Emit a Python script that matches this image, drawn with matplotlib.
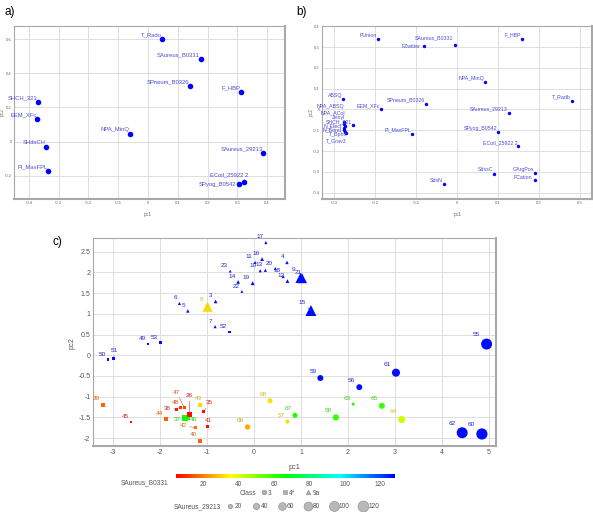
import matplotlib
matplotlib.use("Agg")
import numpy as np
import matplotlib.pyplot as plt
from matplotlib.colors import LinearSegmentedColormap, Normalize
from matplotlib.lines import Line2D
from matplotlib.ticker import MultipleLocator, FuncFormatter

plt.rcParams["font.family"] = ["Liberation Sans", "DejaVu Sans"]

#### DATA ####
# a) loadings
a_names = ["T_Rado", "SAureus_B0331", "SPneum_B0326", "F_HBP", "SHCH_321", "EEM_XFc",
           "NPA_MinQ", "SHdsCH", "SAureus_29213", "Pl_MaxFPL", "ECoil_25922 2", "SPyog_B0542"]
a_pc1 = [0.047, 0.177, 0.141, 0.312, -0.370, -0.372, -0.060, -0.342, 0.387, -0.335, 0.322, 0.305]
a_pc2 = [0.598, 0.484, 0.324, 0.292, 0.229, 0.135, 0.047, -0.029, -0.065, -0.171, -0.237, -0.247]

# b) loadings
b_names = ["PUnion", "SAureus_B0331", "FZwitter", "F_HBP", "NPA_MinQ", "ABSQ", "T_Radb",
           "SPneum_B0326", "EEM_XFc", "SAureus_29213", "NPA_ABSQ", "NPA_ACol", "Jvinyl",
           "SHCH_321", "N_Elect", "N_Bond", "T_Bphil", "T_Grav3", "Pl_MaxFPL", "SPyog_B0542",
           "ECoil_25922 2", "SdssC", "GArgPos", "FCation", "SdsN"]
b_pc1 = [-0.193, -0.005, -0.082, 0.157, 0.068, -0.278, 0.279, -0.076, -0.187, 0.126,
         -0.277, -0.276, -0.275, -0.254, -0.277, -0.276, -0.273, -0.271, -0.111, 0.100,
         0.149, 0.090, 0.190, 0.190, -0.033]
b_pc2 = [0.338, 0.311, 0.303, 0.340, 0.133, 0.051, 0.043, 0.026, 0.000, -0.016,
         -0.062, -0.068, -0.080, -0.074, -0.090, -0.098, -0.106, -0.112, -0.117, -0.109,
         -0.176, -0.308, -0.306, -0.338, -0.359]

# c) scores
c_ids = [3, 4, 5, 6, 7, 8, 9, 10, 11, 12, 13, 14, 15, 16, 17, 18, 19, 20, 21, 22, 23,
         35, 36, 37, 38, 39, 40, 41, 42, 43, 44, 45, 46, 47, 48, 49, 50, 51, 52, 53,
         55, 56, 57, 58, 59, 60, 61, 62, 63, 64, 65, 66, 67, 68]
c_pc1 = [-0.82, 0.70, -1.41, -1.59, -0.83, -0.99, 0.99, 0.13, 0.02, 0.71, 0.24, -0.34, 1.21,
         0.17, 0.25, 0.62, -0.03, 0.45, 1.02, -0.26, -0.51,
         -1.07, -1.38, -1.47, -1.65, -3.22, -1.16, -0.99, -1.25, -1.15, -1.88, -2.62, -1.42,
         -1.49, -1.57, -2.26, -3.11, -2.99, -0.52, -1.99,
         4.95, 2.24, 0.71, 1.74, 1.41, 4.85, 3.02, 4.43, 2.11, 3.14, 2.72, -0.14, 0.87, 0.34]
c_pc2 = [1.30, 2.24, 1.07, 1.25, 0.69, 1.17, 1.87, 2.04, 2.24, 1.79, 2.05, 1.77, 1.08,
         2.32, 2.72, 1.90, 1.74, 2.09, 1.86, 1.54, 2.03,
         -1.35, -1.43, -1.52, -1.30, -1.20, -2.06, -1.71, -1.75, -1.20, -1.54, -1.61, -1.50,
         -1.26, -1.27, 0.27, -0.11, -0.08, 0.56, 0.30,
         0.27, -0.77, -1.60, -1.50, -0.55, -1.90, -0.42, -1.87, -1.18, -1.55, -1.22, -1.73,
         -1.45, -1.10]
c_b0331 = [127, 127, 127, 127, 127, 31, 127, 127, 127, 127, 127, 127, 127, 127, 127, 127,
           127, 127, 127, 127, 127,
           6, 6, 66, 7, 17, 17, 6, 18, 31, 17, 6, 64, 14, 12, 127, 127, 127, 127, 127,
           127, 127, 31, 60, 127, 127, 127, 127, 62, 42, 60, 25, 63, 32]
c_29213 = [14, 12, 12, 10, 10, 100, 105, 10, 10, 14, 10, 14, 120, 14, 10, 10, 16, 10, 100,
           8, 8,
           8, 20, 40, 10, 18, 16, 8, 8, 14, 16, 8, 30, 10, 10, 8, 8, 8, 8, 8,
           120, 35, 16, 38, 36, 125, 65, 120, 10, 50, 36, 28, 25, 25]
c_class = ["9a"] * 21 + ["4*"] * 19 + ["3"] * 14

class_names = ["3", "4*", "9a"]
size_ticks = [20, 40, 60, 80, 100, 120]
cbar_ticks = [20, 40, 60, 80, 100, 120]

W, H = 593, 512
def box(l, t, r, b):
    return [l / W, 1 - b / H, (r - l) / W, (b - t) / H]

def fmt(v, pos):
    return "%g" % round(v, 3)

def style_axes(ax, tsize, xstep, ystep, pad):
    ax.xaxis.set_major_locator(MultipleLocator(xstep))
    ax.yaxis.set_major_locator(MultipleLocator(ystep))
    ax.xaxis.set_major_formatter(FuncFormatter(fmt))
    ax.yaxis.set_major_formatter(FuncFormatter(fmt))
    ax.grid(True, color="#dedede", lw=0.7)
    ax.set_axisbelow(True)
    ax.tick_params(length=0, labelsize=tsize, colors="#666666", pad=pad)
    for s in ax.spines.values():
        s.set_color("#a8a8a8")
        s.set_linewidth(0.8)
    ax.spines["right"].set_linewidth(1.5)
    ax.spines["bottom"].set_linewidth(1.5)

fig = plt.figure(figsize=(W / 100, H / 100), dpi=100)

################ a) ################
ax_a = fig.add_axes(box(14, 26, 285, 199))
ax_a.scatter(a_pc1, a_pc2, s=16, color="#0000ff", linewidths=0, zorder=3)
a_moves = {"ECoil_25922 2": (3, 5), "SPyog_B0542": (-2, -0.3)}
for n, x, y in zip(a_names, a_pc1, a_pc2):
    dx, dy = a_moves.get(n, (-0.5, 3))
    ax_a.annotate(n, (x, y), xytext=(dx, dy), textcoords="offset points", ha="right",
                  va="center", fontsize=4.2, color="#4b4bdc")
ax_a.set_xlim(-0.45, 0.46)
ax_a.set_ylim(-0.335, 0.676)
style_axes(ax_a, 3, 0.1, 0.2, 1.5)
ax_a.set_xlabel("pc1", fontsize=3.5, color="#666666")
ax_a.set_ylabel("pc2", fontsize=3.5, color="#666666")
ax_a.xaxis.set_label_coords(0.494, -0.073)
ax_a.yaxis.set_label_coords(-0.036, 0.505)
fig.text(10 / W, 1 - 12 / H, "a)", fontsize=8.5, ha="center", va="center")

################ b) ################
ax_b = fig.add_axes(box(322, 26, 592, 199))
ax_b.scatter(b_pc1, b_pc2, s=6, color="#0000ff", linewidths=0, zorder=3)
b_moves = {"SAureus_B0331": (-1, 5), "FZwitter": (-2, 0), "FCation": (-2, 1.5),
           "NPA_ABSQ": (0.4, 11.2), "NPA_ACol": (0.6, 8), "Jvinyl": (0.4, 6.2),
           "SHCH_321": (-0.7, 2.4), "N_Elect": (-1.4, 1.7), "N_Bond": (-1.7, 0),
           "T_Bphil": (0.9, -2.2), "T_Grav3": (0, -5.5)}
for n, x, y in zip(b_names, b_pc1, b_pc2):
    dx, dy = b_moves.get(n, (-0.5, 2.7))
    ax_b.annotate(n, (x, y), xytext=(dx, dy), textcoords="offset points", ha="right",
                  va="center", fontsize=3.8, color="#4b4bdc")
ax_b.set_xlim(-0.33, 0.329)
ax_b.set_ylim(-0.43, 0.401)
style_axes(ax_b, 3, 0.1, 0.1, 1.5)
ax_b.set_xlabel("pc1", fontsize=3.5, color="#666666")
ax_b.set_ylabel("pc2", fontsize=3.5, color="#666666")
ax_b.xaxis.set_label_coords(0.501, -0.073)
ax_b.yaxis.set_label_coords(-0.03, 0.5)
fig.text(302 / W, 1 - 12 / H, "b)", fontsize=8.5, ha="center", va="center")

################ c) ################
cmap = LinearSegmentedColormap.from_list(
    "hue", ["#ff0000", "#ffff00", "#00ff00", "#00ffff", "#0000ff"])
norm = Normalize(4.4, 128.6)
K = 0.52  # points^2 per SAureus_29213 unit
markers = {"3": "o", "4*": "s", "9a": "^"}

ax_c = fig.add_axes(box(93, 238, 496, 446))
px = np.array(c_pc1)
py = np.array(c_pc2)
pcol = np.array(c_b0331, dtype=float)
psz = np.array(c_29213, dtype=float)
cls = np.array(c_class)
order = np.argsort(-psz)
for cl in class_names:
    idx = [i for i in order if cls[i] == cl]
    ax_c.scatter(px[idx], py[idx], s=K * psz[idx], c=pcol[idx], cmap=cmap, norm=norm,
                 marker=markers[cl], linewidths=0, zorder=3)

# label placements (px) for the crowded ones: dx, dy, leader line
c_moves = {47: (-7.3, 15, True), 36: (0.3, 18.7, True), 48: (-4.6, 5.3, False),
           38: (-9, 0.3, True), 35: (5.6, 8.3, True), 37: (-8, -1.7, False),
           46: (6, -1.7, False), 42: (-12, 2.7, True), 41: (0.6, 5.7, False),
           40: (-6, 5.7, False), 43: (-1.3, 6.4, False), 51: (1, 7.7, True),
           8: (-6.3, 7, True), 9: (-7.4, 8.4, False), 21: (-4, 5.7, False),
           15: (-8.7, 8, True), 10: (-7.5, 5.5, False)}
for i, lab in enumerate(c_ids):
    r = np.sqrt(K * psz[i]) / 2
    rgb = np.array(cmap(norm(pcol[i]))[:3])
    tcol = rgb * 0.7 + 0.3 * 0.42
    if lab in c_moves:
        dx, dy, lead = c_moves[lab]
        dx, dy, ha, rel = dx * 0.72, dy * 0.72, "center", (0.5, 0.5)
    else:
        dx, dy, lead = -(r + 0.7), r + 2.9, r > 2.8
        ha, rel = "right", (1, 0)
    arrow = None
    if lead:
        arrow = dict(arrowstyle="-", color=tcol, lw=0.4, shrinkA=0, shrinkB=r, relpos=rel)
    ax_c.annotate(str(lab), (px[i], py[i]), xytext=(dx, dy), textcoords="offset points",
                  ha=ha, va="center", fontsize=4.6, color=tcol, arrowprops=arrow, zorder=4)

ax_c.set_xlim(-3.43, 5.15)
ax_c.set_ylim(-2.19, 2.83)
style_axes(ax_c, 5, 1, 0.5, 1.8)
ax_c.tick_params(colors="#555555")
ax_c.set_xlabel("pc1", fontsize=5.3, color="#555555")
ax_c.set_ylabel("pc2", fontsize=5.3, color="#555555")
ax_c.xaxis.set_label_coords(0.5, -0.087)
ax_c.yaxis.set_label_coords(-0.044, 0.494)
fig.text(57 / W, 1 - 242.5 / H, "c)", fontsize=8.5, ha="center", va="center")

# colour bar
cax = fig.add_axes(box(176, 474, 395, 478))
sm = plt.cm.ScalarMappable(norm=norm, cmap=cmap)
cb = fig.colorbar(sm, cax=cax, orientation="horizontal", ticks=cbar_ticks)
cb.outline.set_visible(False)
cax.tick_params(length=0, labelsize=4.7, colors="#555555", pad=2)
fig.text(168 / W, 1 - 482.7 / H, "SAureus_B0331", fontsize=4.7, color="#555555",
         ha="right", va="center")

# class legend
fig.text(256 / W, 1 - 493.3 / H, "Class", fontsize=4.8, color="#555555", ha="right",
         va="center")
cls_handles = [Line2D([], [], ls="none", marker=markers[c], markersize=np.sqrt(K * 22),
                      markerfacecolor="#b0b0b0", markeredgecolor="#8a8a8a",
                      markeredgewidth=0.4, label=c) for c in class_names]
leg1 = fig.legend(handles=cls_handles, loc="center left",
                  bbox_to_anchor=(261 / W, 1 - 493.3 / H), ncol=3, frameon=False,
                  fontsize=4.8, handlelength=0.8, handletextpad=0.2, columnspacing=1.6,
                  borderpad=0, borderaxespad=0, labelcolor="#555555")

# size legend
fig.text(221 / W, 1 - 506.7 / H, "SAureus_29213", fontsize=4.8, color="#555555",
         ha="right", va="center")
sz_handles = [Line2D([], [], ls="none", marker="o", markersize=np.sqrt(K * v),
                     markerfacecolor="#b8b8b8", markeredgecolor="#8a8a8a",
                     markeredgewidth=0.4, label=str(v)) for v in size_ticks]
leg2 = fig.legend(handles=sz_handles, loc="center left",
                  bbox_to_anchor=(225 / W, 1 - 506.7 / H), ncol=6, frameon=False,
                  fontsize=4.8, handlelength=1.4, handletextpad=0.1, columnspacing=1.3,
                  borderpad=0, borderaxespad=0, labelcolor="#555555")

fig.savefig("out.png", dpi=100)
